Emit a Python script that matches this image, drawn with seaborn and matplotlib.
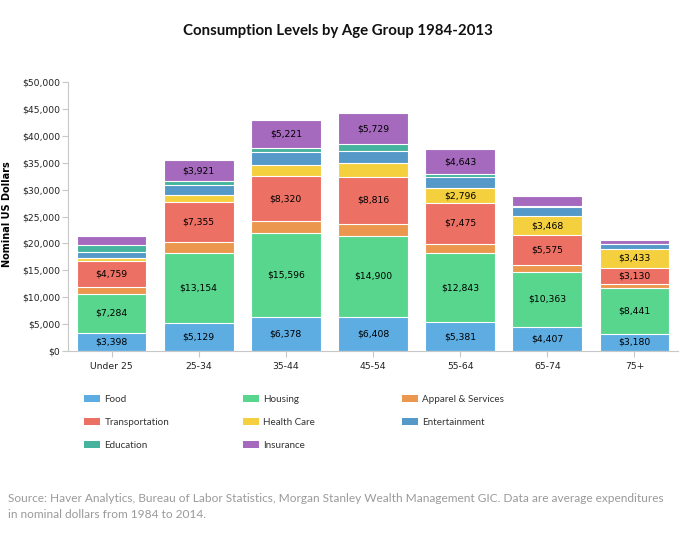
import numpy as np
import pandas as pd
import matplotlib
matplotlib.use("Agg")
import matplotlib.pyplot as plt
import seaborn as sns
from matplotlib.patches import Patch
from matplotlib.ticker import FuncFormatter

# ---- data ----
age_groups = ["Under 25", "25-34", "35-44", "45-54", "55-64", "65-74", "75+"]
food = [3398, 5129, 6378, 6408, 5381, 4407, 3180]
housing = [7284, 13154, 15596, 14900, 12843, 10363, 8441]
apparel = [1200, 2000, 2200, 2300, 1750, 1240, 750]
transportation = [4759, 7355, 8320, 8816, 7475, 5575, 3130]
health_care = [650, 1370, 2000, 2450, 2796, 3468, 3433]
entertainment = [1100, 1900, 2550, 2350, 2050, 1650, 900]
education = [1400, 600, 700, 1200, 550, 250, 100]
insurance = [1550, 3921, 5221, 5729, 4643, 1800, 620]

categories = ["Food", "Housing", "Apparel & Services", "Transportation",
              "Health Care", "Entertainment", "Education", "Insurance"]
series = [food, housing, apparel, transportation, health_care,
          entertainment, education, insurance]
colors = ["#5DADE2", "#58D68D", "#EB984E", "#EC7063",
          "#F4D03F", "#5499C7", "#45B39D", "#A569BD"]

title = "Consumption Levels by Age Group 1984-2013"
ylabel = "Nominal US Dollars"
source = ("Source: Haver Analytics, Bureau of Labor Statistics, Morgan Stanley Wealth Management GIC. Data are average expenditures\n"
          "in nominal dollars from 1984 to 2014.")

# ---- long table with stacked bases ----
rows = []
for cat, vals in zip(categories, series):
    for age, v in zip(age_groups, vals):
        rows.append({"age": age, "category": cat, "value": v})
df = pd.DataFrame(rows)
df["category"] = pd.Categorical(df["category"], categories, ordered=True)
df = df.sort_values(["age", "category"])
df["top"] = df.groupby("age")["value"].cumsum()
df["base"] = df["top"] - df["value"]

sns.set_style("white")
plt.rcParams["font.family"] = ["DejaVu Sans"]

fig = plt.figure(figsize=(6.97, 5.35), dpi=100)
W, H = 697, 535
ax = fig.add_axes([68 / W, 1 - 351 / H, 610 / W, 269 / H])

for cat, col in reversed(list(zip(categories, colors))):
    sub = df[df["category"] == cat]
    sns.barplot(data=sub, x="age", y="top", order=age_groups, color=col,
                saturation=1, width=0.8, edgecolor="white", linewidth=0.8,
                errorbar=None, ax=ax)

pos = {a: i for i, a in enumerate(age_groups)}
for _, r in df.iterrows():
    if r["value"] >= 2700:
        ax.text(pos[r["age"]], r["base"] + r["value"] / 2, f"${r['value']:,.0f}",
                ha="center", va="center", fontsize=6.7, color="black")

ax.set_xlim(-0.5, 6.5)
ax.set_ylim(0, 50000)
ax.set_yticks(np.arange(0, 50001, 5000))
ax.yaxis.set_major_formatter(FuncFormatter(lambda v, p: f"${v:,.0f}"))
ax.set_xlabel("")
ax.set_ylabel("")
for s in ["top", "right"]:
    ax.spines[s].set_visible(False)
for s in ["left", "bottom"]:
    ax.spines[s].set_color("#C8C8C8")
    ax.spines[s].set_linewidth(0.8)
ax.tick_params(axis="y", which="major", length=4, width=0.8, color="#C8C8C8",
               pad=1.5, labelsize=6.7, labelcolor="#222222", left=True)
ax.tick_params(axis="x", which="major", length=4, width=0.8, color="#C8C8C8",
               pad=4, labelsize=6.7, labelcolor="#222222", bottom=True)
ax.grid(False)

fig.text(7.5 / W, 1 - 214 / H, ylabel, rotation=90, ha="center", va="center",
         fontsize=7, fontweight="bold", color="black")

fig.text(337.5 / W, 1 - 31.5 / H, title, ha="center", va="center",
         fontsize=10.8, fontweight="bold", family=["Lato", "DejaVu Sans"], color="#111111")

# legend: three columns, row-major ordering as in reference
handles = [Patch(facecolor=c, edgecolor="none") for c in colors]
cols_idx = [[0, 3, 6], [1, 4, 7], [2, 5]]
col_x = [84, 243, 402]
for idxs, x in zip(cols_idx, col_x):
    leg = fig.legend([handles[i] for i in idxs], [categories[i] for i in idxs],
                     loc="upper left", bbox_to_anchor=(x / W, 1 - 395 / H),
                     frameon=False, borderpad=0, borderaxespad=0,
                     handlelength=1.65, handleheight=0.72, handletextpad=0.42,
                     labelspacing=1.4,
                     prop={"family": ["Lato", "DejaVu Sans"], "size": 7.1})
    for t in leg.get_texts():
        t.set_color("#333333")

fig.text(8 / W, 1 - 493 / H, source, ha="left", va="top", fontsize=8.6,
         family=["Lato", "DejaVu Sans"], color="#9A9A9A", linespacing=1.5)

fig.savefig("out.png", dpi=100)
